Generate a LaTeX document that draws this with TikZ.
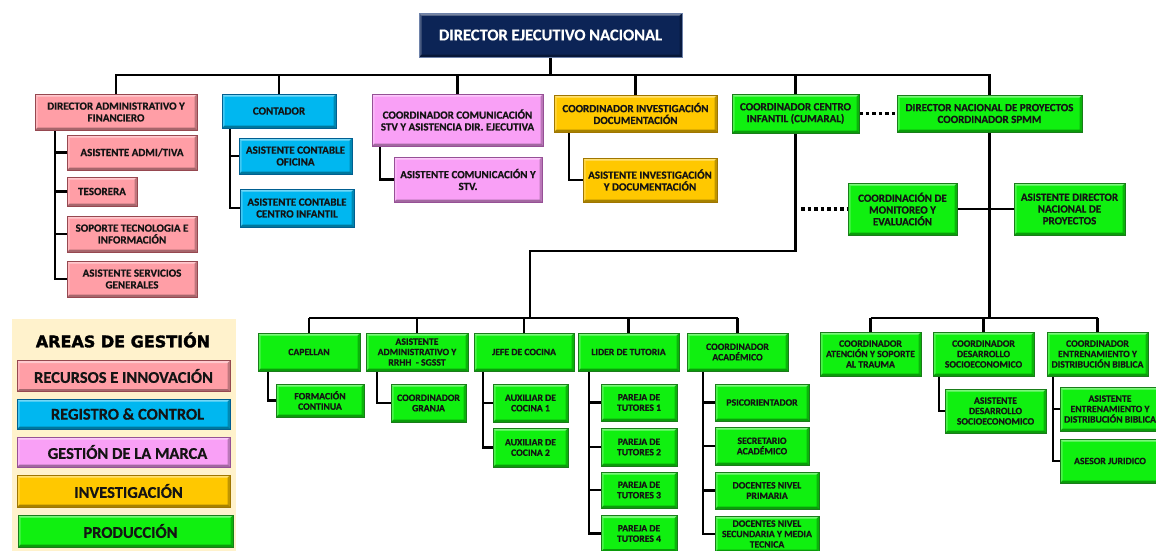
\documentclass[tikz,border=0pt]{standalone}
\usepackage{fontspec}
\setmainfont{Carlito}[BoldFeatures={FakeBold=0.5}]
\newfontfamily\legfont{DejaVu Sans}[BoldFeatures={FakeBold=2}]
\usetikzlibrary{calc}
\pgfdeclarelayer{background}
\pgfsetlayers{background,main}
\definecolor{pinkF}{RGB}{255,158,166}
\definecolor{pinkD}{RGB}{150,72,80}
\definecolor{cyanF}{RGB}{0,183,240}
\definecolor{cyanD}{RGB}{0,95,145}
\definecolor{violF}{RGB}{249,160,246}
\definecolor{violD}{RGB}{150,80,150}
\definecolor{goldF}{RGB}{255,200,0}
\definecolor{goldD}{RGB}{160,118,0}
\definecolor{greenF}{RGB}{16,240,16}
\definecolor{greenD}{RGB}{25,125,25}
\definecolor{navyF}{RGB}{12,36,86}
\definecolor{navyD}{RGB}{110,130,170}
\definecolor{legbgc}{RGB}{255,242,204}
\definecolor{txt}{RGB}{20,20,20}
\tikzset{
  bevel/.style={path picture={
    \fill[white,opacity=.45] (path picture bounding box.north west) -- (path picture bounding box.north east)
      -- ([shift={(-2.5pt,-2.5pt)}]path picture bounding box.north east) -- ([shift={(2.5pt,-2.5pt)}]path picture bounding box.north west) -- cycle;
    \fill[white,opacity=.25] (path picture bounding box.north west) -- (path picture bounding box.south west)
      -- ([shift={(2.5pt,2.5pt)}]path picture bounding box.south west) -- ([shift={(2.5pt,-2.5pt)}]path picture bounding box.north west) -- cycle;
    \fill[black,opacity=.35] (path picture bounding box.south west) -- (path picture bounding box.south east)
      -- ([shift={(-2.5pt,2.5pt)}]path picture bounding box.south east) -- ([shift={(2.5pt,2.5pt)}]path picture bounding box.south west) -- cycle;
    \fill[black,opacity=.25] (path picture bounding box.north east) -- (path picture bounding box.south east)
      -- ([shift={(-2.5pt,2.5pt)}]path picture bounding box.south east) -- ([shift={(-2.5pt,-2.5pt)}]path picture bounding box.north east) -- cycle;
  }},
  box/.style={rectangle, inner sep=0pt, align=center, text=txt, bevel, line width=0.6pt},
  up/.style={font=\fontsize{11}{11.8}\selectfont\bfseries},
  lo/.style={font=\fontsize{9.7}{10.4}\selectfont\bfseries},
  pk/.style={box, fill=pinkF, draw=pinkD},
  cy/.style={box, fill=cyanF, draw=cyanD},
  vi/.style={box, fill=violF, draw=violD},
  go/.style={box, fill=goldF, draw=goldD},
  gr/.style={box, fill=greenF, draw=greenD},
  conn/.style={draw=black, line width=2.6pt, line join=miter},
  connb/.style={draw=black, line width=2.2pt, line join=miter},
  dots/.style={draw=black, line width=3.5pt, dash pattern=on 3.5pt off 3pt},
  legbox/.style={font=\fontsize{16.5}{18}\selectfont\bfseries, minimum width=213pt, minimum height=31pt},
}
\begin{document}
\begin{tikzpicture}[x=1pt,y=-1pt]
\useasboundingbox (0,0) rectangle (1156,550);
\clip (0,0) rectangle (1156,550);

% top
\node[box, fill=navyF, draw=navyD, text=white, font=\fontsize{16.5}{18}\selectfont\bfseries,
      minimum width=263pt, minimum height=44pt] (dir) at (550.5,35) {DIRECTOR EJECUTIVO NACIONAL};

% level 1
\node[pk, up, minimum width=162pt, minimum height=36pt] (dadm) at (116,112) {DIRECTOR ADMINISTRATIVO Y\\FINANCIERO};
\node[cy, up, minimum width=114pt, minimum height=34pt] (cont) at (279,111) {CONTADOR};
\node[vi, up, minimum width=171pt, minimum height=52pt] (ccom) at (457.5,120) {COORDINADOR COMUNICACIÓN\\STV Y ASISTENCIA DIR. EJECUTIVA};
\node[go, up, minimum width=163pt, minimum height=37pt] (cinv) at (635.5,113.5) {COORDINADOR INVESTIGACIÓN\\DOCUMENTACIÓN};
\node[gr, up, minimum width=127pt, minimum height=39pt] (ccen) at (795.5,113.5) {COORDINADOR CENTRO\\INFANTIL (CUMARAL)};
\node[gr, up, minimum width=185pt, minimum height=37pt] (dnp) at (989.5,113.5) {DIRECTOR NACIONAL DE PROYECTOS\\COORDINADOR SPMM};

% admin children
\node[pk, up, minimum width=130pt, minimum height=35pt] (aadm) at (132,152.5) {ASISTENTE ADMI/TIVA};
\node[pk, up, minimum width=70pt, minimum height=29pt] (teso) at (102,191.5) {TESORERA};
\node[pk, up, minimum width=130pt, minimum height=36pt] (sopt) at (132,234) {SOPORTE TECNOLOGIA E\\INFORMACIÓN};
\node[pk, up, minimum width=130pt, minimum height=36pt] (asg) at (132,279) {ASISTENTE SERVICIOS\\GENERALES};

% contador children
\node[cy, up, minimum width=113pt, minimum height=36pt] (aco) at (295.5,156) {ASISTENTE CONTABLE\\OFICINA};
\node[cy, up, minimum width=114pt, minimum height=38pt] (acci) at (297,208) {ASISTENTE CONTABLE\\CENTRO INFANTIL};

% comunicacion / investigacion children
\node[vi, up, minimum width=148pt, minimum height=45pt] (acom) at (468,179.5) {ASISTENTE COMUNICACIÓN Y\\STV.};
\node[go, up, minimum width=134pt, minimum height=44pt] (ainv) at (650,180) {ASISTENTE INVESTIGACIÓN\\Y DOCUMENTACIÓN};

% monitoring
\node[gr, up, minimum width=109pt, minimum height=52pt] (cmon) at (902.5,209) {COORDINACIÓN DE\\MONITOREO Y\\EVALUACIÓN};
\node[gr, up, minimum width=111pt, minimum height=52pt] (adnp) at (1069.5,209) {ASISTENTE DIRECTOR\\NACIONAL DE\\PROYECTOS};

% bottom row (centro infantil)
\node[gr, lo, minimum width=102pt, minimum height=38pt] (cap) at (309,352) {CAPELLAN};
\node[gr, lo, minimum width=102pt, minimum height=38pt] (aarh) at (417,352) {ASISTENTE\\ADMINISTRATIVO Y\\RRHH\ \ - SGSST};
\node[gr, lo, minimum width=100pt, minimum height=38pt] (jcoc) at (524,352) {JEFE DE COCINA};
\node[gr, lo, minimum width=101pt, minimum height=38pt] (ltut) at (628.5,352) {LIDER DE TUTORIA};
\node[gr, lo, minimum width=101pt, minimum height=38pt] (cacad) at (737.5,352) {COORDINADOR\\ACADÉMICO};

\node[gr, lo, minimum width=88pt, minimum height=33pt] (fcon) at (320,400.5) {FORMACIÓN\\CONTINUA};
\node[gr, lo, minimum width=75pt, minimum height=38pt] (cgra) at (428.5,403) {COORDINADOR\\GRANJA};
\node[gr, lo, minimum width=75pt, minimum height=38pt] (aux1) at (530.5,403) {AUXILIAR DE\\COCINA 1};
\node[gr, lo, minimum width=75pt, minimum height=39pt] (aux2) at (530.5,447.5) {AUXILIAR DE\\COCINA 2};
\node[gr, lo, minimum width=76pt, minimum height=37pt] (pt1) at (639,402.5) {PAREJA DE\\TUTORES 1};
\node[gr, lo, minimum width=76pt, minimum height=38pt] (pt2) at (639,447) {PAREJA DE\\TUTORES 2};
\node[gr, lo, minimum width=76pt, minimum height=36pt] (pt3) at (639,490) {PAREJA DE\\TUTORES 3};
\node[gr, lo, minimum width=76pt, minimum height=36pt] (pt4) at (639,533.5) {PAREJA DE\\TUTORES 4};
\node[gr, lo, minimum width=94pt, minimum height=37pt] (psi) at (762,402.5) {PSICORIENTADOR};
\node[gr, lo, minimum width=94pt, minimum height=38pt] (sec) at (762,446) {SECRETARIO\\ACADÉMICO};
\node[gr, lo, minimum width=104pt, minimum height=37pt] (dpri) at (767,490.5) {DOCENTES NIVEL\\PRIMARIA};
\node[gr, lo, minimum width=104pt, minimum height=36pt] (dsec) at (767,534) {DOCENTES NIVEL\\SECUNDARIA Y MEDIA\\TECNICA};

% bottom row (proyectos)
\node[gr, lo, minimum width=101pt, minimum height=44pt] (catr) at (870.5,354) {COORDINADOR\\ATENCIÓN Y SOPORTE\\AL TRAUMA};
\node[gr, lo, minimum width=101pt, minimum height=44pt] (cdes) at (983.5,354) {COORDINADOR\\DESARROLLO\\SOCIOECONOMICO};
\node[gr, lo, minimum width=101pt, minimum height=44pt] (cent) at (1097.5,354) {COORDINADOR\\ENTRENAMIENTO Y\\DISTRIBUCIÓN BIBLICA};
\node[gr, lo, minimum width=101pt, minimum height=44pt] (ades) at (995.5,411) {ASISTENTE\\DESARROLLO\\SOCIOECONOMICO};
\node[gr, lo, minimum width=100pt, minimum height=44pt] (aent) at (1110,409) {ASISTENTE\\ENTRENAMIENTO Y\\DISTRIBUCIÓN BIBLICA};
\node[gr, lo, minimum width=100pt, minimum height=44pt] (asj) at (1110,461) {ASESOR JURIDICO};

% legend
\node[fill=legbgc, inner sep=0pt, minimum width=224pt, minimum height=240pt, anchor=north west] (legbg) at (12,319) {};
\node[font=\legfont\bfseries\fontsize{16}{18}\selectfont, text=black] (legt) at (123,340) {AREAS DE GESTIÓN};
\node[pk, legbox] (l1) at (123.5,376) {RECURSOS E INNOVACIÓN};
\node[cy, legbox, minimum height=30pt] (l2) at (123.5,414) {\hspace*{8pt}REGISTRO \& CONTROL};
\node[vi, legbox, minimum height=30pt] (l3) at (123.5,452) {\hspace*{8pt}GESTIÓN DE LA MARCA};
\node[go, legbox, minimum height=32pt] (l4) at (123.5,491) {\hspace*{10pt}INVESTIGACIÓN};
\node[gr, legbox, minimum width=215pt, minimum height=32pt] (l5) at (125.5,531) {\hspace*{10pt}PRODUCCIÓN};

% trunk coordinates
\coordinate (tadm) at (55,0);
\coordinate (tcon) at (230,0);
\coordinate (tcom) at (380,0);
\coordinate (tinv) at (569,0);
\coordinate (tcap) at (268,0);
\coordinate (tarh) at (377,0);
\coordinate (tcoc) at (483,0);
\coordinate (ttut) at (589,0);
\coordinate (taca) at (703,0);
\coordinate (tdes) at (939,0);
\coordinate (tent) at (1053,0);
\coordinate (bus) at (0,75);
\coordinate (mid) at (530,251);
\coordinate (bbus) at (0,318);
\coordinate (dotend) at (801,209);

\begin{pgfonlayer}{background}
  % top bus
  \draw[conn] (dir.south) -- (dir.south |- bus);
  \draw[conn] (dadm.north) -- (dadm.north |- bus) -- (dnp.north |- bus) -- (dnp.north);
  \foreach \n in {cont,ccom,cinv,ccen} \draw[conn] (\n.north |- bus) -- (\n.north);
  % admin
  \draw[conn] (dadm.south -| tadm) |- (asg.west);
  \foreach \n in {aadm,teso,sopt} \draw[conn] (\n.west -| tadm) -- (\n.west);
  % contador
  \draw[conn] (cont.south -| tcon) |- (acci.west);
  \draw[conn] (aco.west -| tcon) -- (aco.west);
  % comunicacion, investigacion
  \draw[conn] (ccom.south -| tcom) |- (acom.west);
  \draw[conn] (cinv.south -| tinv) |- (ainv.west);
  % centro infantil
  \draw[conn] (ccen.south) |- (mid) -- (mid |- bbus);
  \draw[connb] (cap.north |- bbus) -- (cacad.north |- bbus);
  \foreach \n in {cap,aarh,jcoc,ltut,cacad} \draw[connb] (\n.north |- bbus) -- (\n.north);
  \draw[connb] (cap.south -| tcap) |- (fcon.west);
  \draw[connb] (aarh.south -| tarh) |- (cgra.west);
  \draw[connb] (jcoc.south -| tcoc) |- (aux2.west);
  \draw[connb] (aux1.west -| tcoc) -- (aux1.west);
  \draw[connb] (ltut.south -| ttut) |- (pt4.west);
  \foreach \n in {pt1,pt2,pt3} \draw[connb] (\n.west -| ttut) -- (\n.west);
  \draw[connb] (cacad.south -| taca) |- (dsec.west);
  \foreach \n in {psi,sec,dpri} \draw[connb] (\n.west -| taca) -- (\n.west);
  % proyectos
  \draw[conn] (dnp.south) -- (dnp.south |- bbus);
  \draw[conn] (cmon.east) -- (adnp.west);
  \draw[connb] (catr.north |- bbus) -- (cent.north |- bbus);
  \foreach \n in {catr,cdes,cent} \draw[connb] (\n.north |- bbus) -- (\n.north);
  \draw[connb] (cdes.south -| tdes) |- (ades.west);
  \draw[connb] (cent.south -| tent) |- (asj.west);
  \draw[connb] (aent.west -| tent) -- (aent.west);
  % dotted
  \draw[dots] (ccen.east) -- (dnp.west);
  \draw[dots] (dotend) -- (cmon.west);
\end{pgfonlayer}
\end{tikzpicture}
\end{document}
